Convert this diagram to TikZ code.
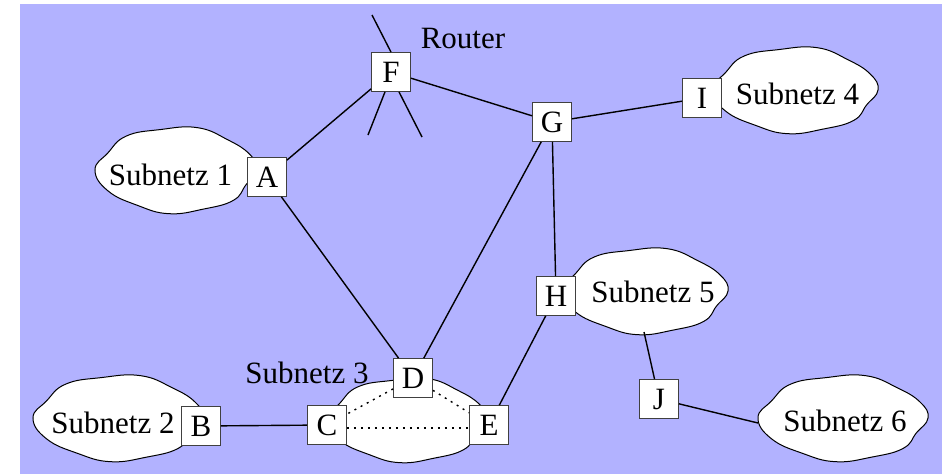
\documentclass[tikz,border=0pt]{standalone}
\usepackage{fontspec}
\setmainfont{Liberation Serif}
\definecolor{bgblue}{RGB}{178,178,255}
\newcommand\netcloud[4]{%
  \begin{scope}[shift={(#1,#2)},xscale=#3,yscale=#4]
    \draw[cloudst] plot[smooth cycle, tension=0.75] coordinates {(0:1) (22:0.93) (45:1.0) (70:0.97) (95:1.02) (120:0.95) (150:0.97) (180:1) (205:0.93) (232:1.0) (258:0.96) (285:1.02) (312:0.95) (338:0.98)};
  \end{scope}}
\begin{document}
\begin{tikzpicture}[x=1pt,y=-1pt,
  every node/.style={font=\fontsize{31}{36}\selectfont},
  netbox/.style={draw=black!75, line width=0.8pt, fill=white, minimum size=39pt, inner sep=0pt, text height=21pt, text depth=0pt},
  link/.style={line width=1.4pt},
  dotlink/.style={line width=1.4pt, dash pattern=on 2pt off 5pt},
  cloudst/.style={draw=black, line width=1pt, fill=white},
  lbl/.style={anchor=base, inner sep=0pt}]
\useasboundingbox (0,0) rectangle (942,474);
\fill[bgblue] (20,4) rectangle (942,474);
% clouds
\netcloud{176}{170}{81}{43}
\netcloud{118}{418}{85}{43}
\netcloud{407}{420}{80}{42}
\netcloud{795}{90}{83}{43}
\netcloud{645}{291}{83}{43}
\netcloud{843}{418}{85}{43}
% routers
\node[netbox] (F) at (391,72) {F};
\node[netbox] (G) at (552,122) {G};
\node[netbox] (I) at (702,98) {I};
\node[netbox] (A) at (267,177) {A};
\node[netbox] (H) at (556,296) {H};
\node[netbox] (D) at (413,378) {D};
\node[netbox] (C) at (327,425) {C};
\node[netbox] (E) at (489,425) {E};
\node[netbox] (B) at (201,426) {B};
\node[netbox] (J) at (659,399) {J};
% free ends
\coordinate (ant1) at (372,15);
\coordinate (ant2) at (368,135);
\coordinate (ant3) at (422,137);
\coordinate (c5b) at (644,332);
\coordinate (c6l) at (758,423);
% links
\draw[link] (A) -- (F);
\draw[link] (F) -- (G);
\draw[link] (G) -- (I);
\draw[link] (A) -- (D);
\draw[link] (G) -- (D);
\draw[link] (G) -- (H);
\draw[link] (H) -- (E);
\draw[link] (B) -- (C);
\draw[link] (c5b) -- (J);
\draw[link] (J) -- (c6l);
\draw[link] (F.north) -- (ant1);
\draw[link] ([xshift=-6pt]F.south) -- (ant2);
\draw[link] ([xshift=8pt]F.south) -- (ant3);
\draw[dotlink] (D) -- (C);
\draw[dotlink] (D) -- (E);
\draw[dotlink] ([yshift=-3pt]C.east) -- ([yshift=-3pt]E.west);
% labels
\node[lbl] (lrouter) at (463,48) {Router};
\node[lbl] (l1) at (170.5,185) {Subnetz 1};
\node[lbl] (l2) at (113,433) {Subnetz 2};
\node[lbl] (l3) at (307,383) {Subnetz 3};
\node[lbl] (l4) at (797.5,104) {Subnetz 4};
\node[lbl] (l5) at (653,302) {Subnetz 5};
\node[lbl] (l6) at (845,431) {Subnetz 6};
\end{tikzpicture}
\end{document}
